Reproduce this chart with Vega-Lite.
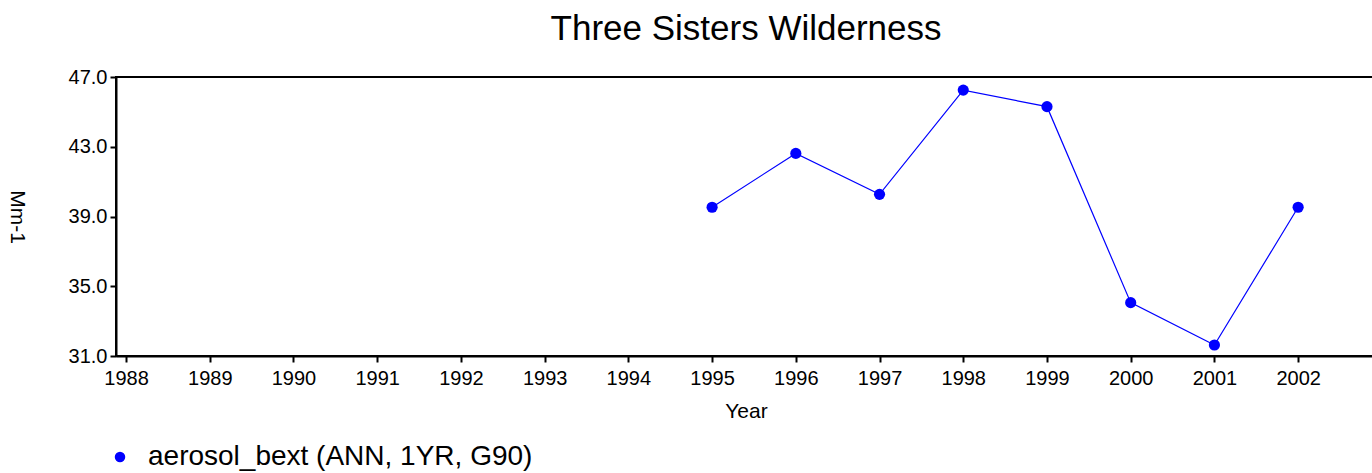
{
  "$schema": "https://vega.github.io/schema/vega-lite/v6.json",
  "autosize": {"type": "none"},
  "width": 1260,
  "height": 279,
  "padding": {"left": 116, "top": 77, "right": 0, "bottom": 117},
  "background": "white",
  "title": {"text": "Three Sisters Wilderness", "font": "Liberation Sans", "fontSize": 35, "fontWeight": "normal", "color": "black", "anchor": "middle", "offset": 20},
  "config": {
    "view": {"stroke": "black", "strokeWidth": 2},
    "axis": {"labelFont": "Liberation Sans", "titleFont": "Liberation Sans", "labelColor": "black", "titleColor": "black", "domainColor": "black", "tickColor": "black", "grid": false, "labelFontSize": 20, "titleFontSize": 21, "titleFontWeight": "normal", "tickSize": 6, "tickWidth": 2, "domainWidth": 2}
  },
  "data": {"values": [
    {"year": 1995, "value": 39.53, "series": "aerosol_bext (ANN, 1YR, G90)"},
    {"year": 1996, "value": 42.62, "series": "aerosol_bext (ANN, 1YR, G90)"},
    {"year": 1997, "value": 40.27, "series": "aerosol_bext (ANN, 1YR, G90)"},
    {"year": 1998, "value": 46.25, "series": "aerosol_bext (ANN, 1YR, G90)"},
    {"year": 1999, "value": 45.3, "series": "aerosol_bext (ANN, 1YR, G90)"},
    {"year": 2000, "value": 34.06, "series": "aerosol_bext (ANN, 1YR, G90)"},
    {"year": 2001, "value": 31.63, "series": "aerosol_bext (ANN, 1YR, G90)"},
    {"year": 2002, "value": 39.53, "series": "aerosol_bext (ANN, 1YR, G90)"}
  ]},
  "encoding": {
    "x": {"field": "year", "type": "quantitative", "scale": {"domain": [1987.88, 2002.93], "nice": false, "zero": false}, "axis": {"values": [1988,1989,1990,1991,1992,1993,1994,1995,1996,1997,1998,1999,2000,2001,2002], "format": "d", "title": "Year", "labelPadding": 6, "titleY": 44, "titleBaseline": "top"}},
    "y": {"field": "value", "type": "quantitative", "scale": {"domain": [31, 47], "nice": false, "zero": false}, "axis": {"values": [31,35,39,43,47], "format": ".1f", "title": "Mm-1", "titleAngle": 90, "titleX": -100, "titleBaseline": "middle", "labelPadding": 3}},
    "color": {"field": "series", "type": "nominal", "scale": {"range": ["#0000FF"]}, "legend": {"orient": "none", "legendX": -10, "legendY": 366, "padding": 0, "title": null, "labelFont": "Liberation Sans", "labelFontSize": 28, "labelLimit": 800, "labelColor": "black", "symbolType": "circle", "symbolSize": 110, "symbolFillColor": "#0000FF", "symbolStrokeWidth": 0, "labelOffset": 14}}
  },
  "layer": [
    {"mark": {"type": "line", "strokeWidth": 1.2}},
    {"mark": {"type": "point", "filled": true, "size": 125, "opacity": 1}}
  ]
}
